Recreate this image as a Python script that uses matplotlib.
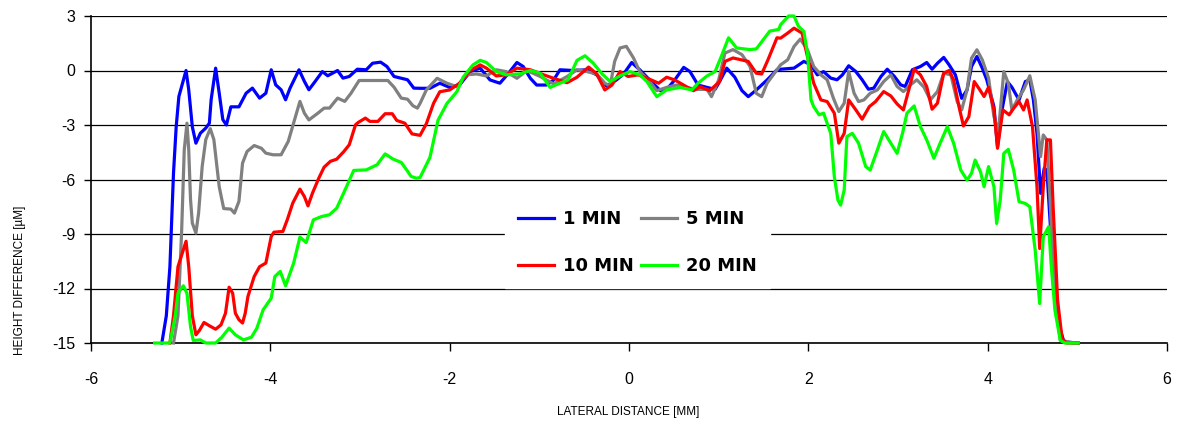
import matplotlib
matplotlib.use("Agg")
import matplotlib.pyplot as plt

plt.rcParams["axes.unicode_minus"] = False

x_1min = [-5.21, -5.16, -5.12, -5.08, -5.05, -5.02, -4.94, -4.91, -4.87, -4.83, -4.78, -4.72, -4.68, -4.66, -4.61,
          -4.57, -4.53, -4.49, -4.44, -4.35, -4.27, -4.20, -4.12, -4.05, -3.99, -3.94, -3.88, -3.83, -3.78, -3.68,
          -3.62, -3.57, -3.50, -3.42, -3.36, -3.25, -3.19, -3.12, -3.03, -2.93, -2.86, -2.77, -2.70, -2.62, -2.47,
          -2.40, -2.33, -2.22, -2.11, -2.00, -1.89, -1.77, -1.66, -1.55, -1.44, -1.35, -1.25, -1.18, -1.10, -1.03,
          -0.92, -0.84, -0.77, -0.62, -0.47, -0.36, -0.25, -0.14, -0.06, 0.03, 0.12, 0.23, 0.35, 0.44, 0.51,
          0.61, 0.68, 0.77, 0.87, 0.96, 1.01, 1.09, 1.18, 1.26, 1.33, 1.42, 1.54, 1.65, 1.69, 1.84,
          1.95, 2.03, 2.10, 2.17, 2.25, 2.32, 2.38, 2.45, 2.53, 2.60, 2.67, 2.73, 2.81, 2.88, 2.96,
          3.03, 3.08, 3.16, 3.25, 3.32, 3.38, 3.44, 3.51, 3.57, 3.64, 3.71, 3.77, 3.82, 3.88, 3.94,
          3.99, 4.07, 4.11, 4.16, 4.22, 4.27, 4.35, 4.42, 4.47, 4.51, 4.55, 4.59, 4.63, 4.66, 4.70,
          4.74, 4.79, 4.85, 5.01]
y_1min = [-15, -13.5, -10.8, -5.65, -3.1, -1.43, 0, -1.06, -3.1, -4.0, -3.45, -3.17, -2.9, -1.6, 0.13,
          -1.25, -2.7, -3.0, -2.0, -2.0, -1.25, -0.97, -1.52, -1.25, 0.04, -0.79, -1.06, -1.61, -0.97, 0.04,
          -0.6, -1.06, -0.6, -0.06, -0.29, 0, -0.42, -0.33, 0.07, 0.04, 0.4, 0.46, 0.22, -0.33, -0.51,
          -0.97, -0.98, -0.98, -0.7, -0.93, -0.8, -0.06, 0.13, -0.52, -0.7, -0.19, 0.44, 0.22, -0.43, -0.8,
          -0.8, -0.52, 0.04, 0, 0.04, -0.24, -0.85, -0.52, -0.19, 0.44, 0.04, -0.52, -1.11, -0.93, -0.52,
          0.17, -0.06, -0.8, -0.93, -1.04, -0.61, 0.13, -0.37, -1.11, -1.44, -1.07, -0.52, 0.04, 0.07, 0.13,
          0.5, 0.31, -0.24, -0.06, -0.42, -0.51, -0.24, 0.26, -0.06, -0.51, -1.03, -0.97, -0.33, 0.07, -0.33,
          -0.79, -0.88, 0.04, 0.22, 0.44, 0.07, 0.4, 0.72, 0.31, -0.24, -1.53, -1.07, 0.22, 0.77, 0.13,
          -0.51, -1.99, -4.19, -2.17, -0.61, -0.92, -1.62, -0.61, -0.51, -1.62, -3.46, -6.76, -5.39, -5.48, -8.6,
          -11.7, -13.9, -14.94, -15]

x_5min = [-5.08, -5.03, -4.99, -4.96, -4.93, -4.91, -4.89, -4.87, -4.83, -4.80, -4.76, -4.72, -4.67, -4.63, -4.57,
          -4.52, -4.44, -4.40, -4.35, -4.31, -4.26, -4.18, -4.10, -4.05, -3.97, -3.88, -3.80, -3.73, -3.67, -3.62,
          -3.57, -3.47, -3.40, -3.34, -3.25, -3.17, -3.10, -3.01, -2.88, -2.69, -2.62, -2.54, -2.47, -2.41, -2.36,
          -2.33, -2.26, -2.14, -2.03, -1.92, -1.81, -1.70, -1.59, -1.48, -1.37, -1.25, -1.14, -0.99, -0.84, -0.69,
          -0.58, -0.47, -0.36, -0.27, -0.21, -0.16, -0.10, -0.03, 0.05, 0.12, 0.23, 0.31, 0.42, 0.53, 0.64,
          0.75, 0.87, 0.92, 1.00, 1.07, 1.16, 1.26, 1.35, 1.42, 1.48, 1.54, 1.65, 1.69, 1.77, 1.84,
          1.91, 1.99, 2.06, 2.14, 2.21, 2.28, 2.34, 2.40, 2.45, 2.51, 2.56, 2.62, 2.69, 2.77, 2.84,
          2.92, 2.99, 3.06, 3.14, 3.21, 3.29, 3.36, 3.44, 3.51, 3.59, 3.66, 3.71, 3.77, 3.82, 3.88,
          3.94, 4.01, 4.07, 4.12, 4.18, 4.23, 4.27, 4.33, 4.40, 4.47, 4.53, 4.59, 4.62, 4.66, 4.70,
          4.75, 4.81, 4.96]
y_5min = [-15, -13.5, -8.95, -4.37, -2.9, -4.37, -7.1, -8.4, -8.95, -7.85, -5.28, -3.8, -3.2, -3.8, -6.4,
          -7.6, -7.63, -7.85, -7.2, -5.1, -4.46, -4.13, -4.28, -4.55, -4.64, -4.64, -3.9, -2.72, -1.7, -2.35,
          -2.72, -2.35, -2.07, -2.07, -1.52, -1.7, -1.25, -0.55, -0.55, -0.55, -0.92, -1.52, -1.58, -1.94, -2.07,
          -1.81, -1.07, -0.43, -0.7, -0.89, -0.24, -0.19, -0.3, 0.04, -0.06, -0.43, 0, -0.33, -0.74, -0.33,
          0.04, -0.06, -0.19, -0.7, -0.85, 0.5, 1.24, 1.33, 0.69, -0.06, -0.61, -1.11, -0.93, -0.8, -0.93,
          -1.04, -1.04, -1.44, -0.52, 0.96, 1.15, 0.87, 0.22, -1.26, -1.44, -0.7, 0.04, 0.31, 0.59, 1.32,
          1.73, 1.14, 0.22, -0.24, -0.51, -1.53, -2.26, -1.8, -0.06, -1.25, -1.71, -1.62, -1.25, -1.07, -0.61,
          -0.24, -0.88, -1.16, -0.79, -0.51, -0.92, -1.62, -1.16, -0.15, -0.24, -1.71, -2.17, -1.07, 0.68, 1.14,
          0.59, -0.42, -2.54, -3.36, -0.06, -0.7, -2.17, -1.62, -1.07, -0.29, -1.62, -4.74, -3.55, -3.82, -7.5,
          -12.65, -14.85, -15]

x_10min = [-5.12, -5.08, -5.03, -4.94, -4.91, -4.87, -4.83, -4.79, -4.74, -4.68, -4.61, -4.55, -4.50, -4.46, -4.42,
           -4.39, -4.35, -4.31, -4.28, -4.25, -4.18, -4.12, -4.05, -3.99, -3.96, -3.86, -3.81, -3.75, -3.67, -3.62,
           -3.58, -3.53, -3.46, -3.40, -3.33, -3.26, -3.18, -3.12, -3.05, -3.02, -2.94, -2.89, -2.80, -2.72, -2.64,
           -2.59, -2.50, -2.42, -2.33, -2.26, -2.18, -2.11, -2.00, -1.89, -1.77, -1.66, -1.59, -1.48, -1.37, -1.25,
           -1.10, -0.95, -0.84, -0.69, -0.58, -0.45, -0.36, -0.27, -0.19, -0.10, -0.01, 0.10, 0.23, 0.33, 0.42,
           0.51, 0.64, 0.72, 0.79, 0.90, 1.01, 1.07, 1.16, 1.33, 1.42, 1.48, 1.55, 1.65, 1.69, 1.77,
           1.84, 1.93, 1.99, 2.06, 2.14, 2.21, 2.29, 2.34, 2.40, 2.45, 2.53, 2.60, 2.68, 2.75, 2.84,
           2.92, 2.99, 3.06, 3.12, 3.18, 3.25, 3.32, 3.38, 3.44, 3.51, 3.57, 3.62, 3.68, 3.73, 3.79,
           3.85, 3.90, 3.96, 4.01, 4.07, 4.11, 4.17, 4.24, 4.29, 4.35, 4.40, 4.44, 4.50, 4.55, 4.58,
           4.62, 4.66, 4.70, 4.73, 4.78, 4.83, 4.88, 5.01]
y_10min = [-15, -13.5, -10.8, -9.4, -10.8, -13.5, -14.55, -14.3, -13.87, -14.05, -14.24, -14.0, -13.36, -11.93, -12.26,
           -13.36, -13.72, -13.9, -13.36, -12.44, -11.34, -10.8, -10.6, -9.14, -8.9, -8.86, -8.2, -7.3, -6.53, -6.94,
           -7.45, -6.75, -5.93, -5.32, -5.0, -4.88, -4.46, -4.09, -2.99, -2.86, -2.62, -2.8, -2.8, -2.38, -2.38,
           -2.75, -2.9, -3.49, -3.57, -2.93, -1.81, -1.17, -1.07, -0.7, 0, 0.31, 0.13, -0.3, -0.24, 0.13,
           0.04, -0.24, -0.43, -0.67, -0.37, 0.19, -0.19, -1.07, -0.8, -0.06, -0.33, -0.24, -0.48, -0.7, -0.37,
           -0.52, -0.89, -1.11, -0.89, -1.11, -0.61, 0.5, 0.69, 0.5, -0.15, -0.19, 0.59, 1.8, 1.78, 2.06,
           2.33, 2.06, 0.77, -0.7, -1.62, -1.71, -2.35, -4.0, -3.46, -1.62, -2.17, -2.68, -1.99, -1.71, -1.16,
           -1.4, -1.84, -2.17, -1.07, 0.07, -0.24, -0.88, -2.13, -1.8, -0.15, 0, -0.51, -1.99, -3.05, -2.54,
           -0.61, -0.97, -1.43, -0.92, -2.17, -4.28, -2.17, -2.44, -2.08, -1.71, -2.17, -1.62, -3.09, -6.4, -9.8,
           -6.4, -3.82, -3.82, -7.5, -12.65, -14.76, -15, -15]

x_20min = [-5.29, -5.12, -5.06, -5.03, -4.97, -4.93, -4.89, -4.86, -4.78, -4.72, -4.61, -4.54, -4.46, -4.39, -4.30,
           -4.21, -4.15, -4.08, -3.99, -3.95, -3.89, -3.83, -3.74, -3.67, -3.60, -3.52, -3.43, -3.34, -3.26, -3.15,
           -3.07, -2.93, -2.81, -2.72, -2.63, -2.54, -2.48, -2.43, -2.37, -2.33, -2.22, -2.13, -2.03, -1.92, -1.85,
           -1.74, -1.66, -1.59, -1.48, -1.37, -1.22, -1.10, -0.99, -0.88, -0.77, -0.68, -0.58, -0.49, -0.40, -0.30,
           -0.21, -0.10, 0.01, 0.12, 0.20, 0.31, 0.42, 0.57, 0.70, 0.77, 0.87, 0.96, 1.03, 1.11, 1.20,
           1.35, 1.42, 1.57, 1.67, 1.69, 1.78, 1.84, 1.89, 1.95, 1.99, 2.03, 2.06, 2.12, 2.17, 2.25,
           2.29, 2.33, 2.36, 2.40, 2.43, 2.49, 2.56, 2.64, 2.69, 2.77, 2.84, 2.92, 2.99, 3.05, 3.10,
           3.18, 3.25, 3.32, 3.40, 3.47, 3.55, 3.62, 3.70, 3.77, 3.82, 3.86, 3.92, 3.96, 4.01, 4.07,
           4.10, 4.14, 4.18, 4.23, 4.29, 4.35, 4.42, 4.47, 4.53, 4.58, 4.62, 4.68, 4.71, 4.75, 4.81,
           4.86, 5.01]
y_20min = [-15, -15, -13.5, -12.26, -11.85, -12.26, -14.1, -14.86, -14.83, -15, -15, -14.68, -14.18, -14.55, -14.83,
           -14.68, -14.18, -13.17, -12.53, -11.34, -11.06, -11.85, -10.6, -9.17, -9.47, -8.22, -8.04, -7.94, -7.58, -6.39,
           -5.5, -5.47, -5.19, -4.59, -4.88, -5.06, -5.47, -5.83, -5.93, -5.89, -4.78, -2.74, -1.81, -1.17, -0.37,
           0.31, 0.56, 0.44, -0.06, -0.24, -0.19, 0, -0.15, -0.93, -0.7, -0.52, 0.56, 0.81, 0.41, -0.19,
           -0.61, -0.3, -0.06, -0.24, -0.61, -1.44, -1.07, -0.93, -1.07, -0.7, -0.3, -0.06, 0.78, 1.8, 1.24,
           1.15, 1.19, 2.17, 2.26, 2.52, 3.0, 3.0, 2.43, 2.15, 0.96, -1.62, -1.99, -2.44, -2.35, -3.46,
           -5.85, -7.13, -7.41, -6.58, -3.64, -3.46, -4.0, -5.29, -5.48, -4.37, -3.36, -4.0, -4.56, -3.46, -2.35,
           -1.95, -3.09, -3.82, -4.83, -4.0, -3.09, -4.0, -5.48, -6.03, -5.66, -4.93, -5.57, -6.4, -5.29, -6.4,
           -8.42, -7.13, -4.56, -4.34, -5.48, -7.22, -7.32, -7.5, -9.89, -12.83, -9.15, -8.6, -10.8, -13.2, -14.85,
           -15, -15]

labels = ["1 MIN", "5 MIN", "10 MIN", "20 MIN"]
colors = ["#0000ff", "#808080", "#ff0000", "#00ff00"]

fig = plt.figure(figsize=(11.78, 4.25), dpi=100)
ax = fig.add_axes([91 / 1178, 1 - 343 / 425, 1076 / 1178, 327 / 425])

series = [(x_1min, y_1min), (x_5min, y_5min), (x_10min, y_10min), (x_20min, y_20min)]
lines = []
for (xs, ys), lab, c in zip(series, labels, colors):
    ln, = ax.plot(xs, ys, color=c, lw=2.3, label=lab, clip_on=False, zorder=3)
    lines.append(ln)

ax.set_xlim(-6, 6)
ax.set_ylim(-15, 3)
ax.set_xticks(range(-6, 7, 2))
ax.set_yticks(range(-15, 4, 3))
ax.grid(axis="y", color="black", lw=0.9)
ax.set_axisbelow(True)
for s in ["top", "right"]:
    ax.spines[s].set_visible(False)
ax.spines["left"].set_linewidth(1.2)
ax.spines["bottom"].set_linewidth(1.2)

ax.tick_params(axis="x", direction="out", length=6, width=1, pad=15, labelsize=11.5)
ax.tick_params(axis="y", direction="out", length=5, width=1, pad=6, labelsize=11.5)
for t in ax.get_xticklabels() + ax.get_yticklabels():
    t.set_fontfamily("Liberation Sans")

# legend: two columns, white box covering the grid
leg = ax.legend([lines[0], lines[2], lines[1], lines[3]],
                [labels[0], labels[2], labels[1], labels[3]],
                ncol=2, loc="center", bbox_to_anchor=(0.508, 0.306),
                frameon=True, fancybox=False, edgecolor="white", framealpha=1,
                prop={"family": "DejaVu Sans", "weight": "bold", "size": 13},
                handlelength=2.0, handletextpad=0.5, columnspacing=0.4,
                labelspacing=1.6, borderpad=0.7)
for h in leg.legend_handles:
    h.set_linewidth(2.3)

fig.text(20 / 1178, 1 - 280 / 425, "HEIGHT DIFFERENCE [µM]", rotation=90,
         ha="center", va="center", fontsize=8.5, family="Liberation Sans")
fig.text(628 / 1178, 1 - 412 / 425, "LATERAL DISTANCE [MM]",
         ha="center", va="center", fontsize=8.5, family="Liberation Sans")

fig.savefig("out.png", dpi=100)
